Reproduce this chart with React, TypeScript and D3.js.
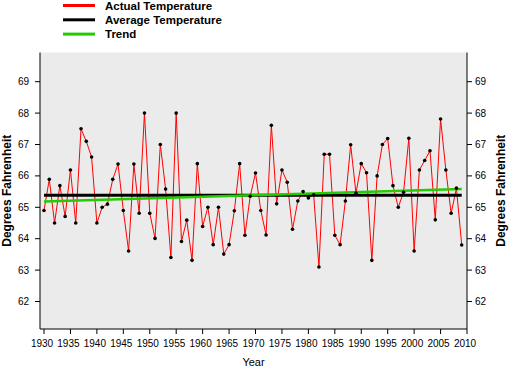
import React from 'react';
import * as d3 from 'd3';

const width = 510;
const height = 367;

// yearly mean temperature, 1930 - 2009 (deg F)
const firstYear = 1930;
const temps = [
  64.9, 65.89, 64.5, 65.69, 64.71, 66.19, 64.5, 67.5, 67.1, 66.6,
  64.5, 65.0, 65.1, 65.89, 66.38, 64.9, 63.61, 66.38, 64.81, 68.0,
  64.81, 64.01, 67.0, 65.58, 63.4, 68.0, 63.91, 64.59, 63.31, 66.39,
  64.39, 65.0, 63.81, 65.0, 63.51, 63.81, 64.89, 66.39, 64.11, 65.35,
  66.09, 64.9, 64.12, 67.61, 65.11, 66.19, 65.8, 64.3, 65.2, 65.5,
  65.3, 65.4, 63.1, 66.69, 66.69, 64.11, 63.81, 65.2, 66.99, 65.45,
  66.39, 66.1, 63.31, 66.0, 67.0, 67.19, 65.69, 65.0, 65.48, 67.2,
  63.61, 66.19, 66.49, 66.8, 64.6, 67.81, 66.19, 64.81, 65.61, 63.8,
];
const years = temps.map((_, i) => firstYear + i);

const averageTemp = 65.38;
const trendYears = [1930, 2009];
const trendTemps = [65.185, 65.58];

const xTicks = [1930, 1935, 1940, 1945, 1950, 1955, 1960, 1965, 1970, 1975, 1980, 1985, 1990, 1995, 2000, 2005, 2010];
const yTicks = [62, 63, 64, 65, 66, 67, 68, 69];

const legendItems = [
  { label: 'Actual Temperature', color: '#ff0000' },
  { label: 'Average Temperature', color: '#000000' },
  { label: 'Trend', color: '#22cc00' },
];

const plotLeft = 40;
const plotRight = 467;
const plotTop = 52.5;
const plotBottom = 329;

const x = d3.scaleLinear().domain([1930, 2010]).range([44, 467]);
const y = d3.scaleLinear().domain([62, 69]).range([301.5, 81.7]);

const font = '"Liberation Sans", Arial, Helvetica, sans-serif';

const App = () => {
  const line = d3
    .line<number>()
    .x((d, i) => x(years[i]))
    .y(d => y(d));

  const trendLine = d3
    .line<number>()
    .x((d, i) => x(trendYears[i]))
    .y(d => y(d));

  const midY = (plotTop + plotBottom) / 2;

  return (
    <svg
      width={width}
      height={height}
      style={{ position: 'absolute', left: 0, top: 0, background: '#fff' }}
      fontFamily={font}
    >
      {/* legend */}
      {legendItems.map((item, i) => (
        <g key={item.label} transform={`translate(0, ${5.5 + i * 14.3})`}>
          <line x1={63} x2={95} y1={0} y2={0} stroke={item.color} strokeWidth={3} />
          <text x={105} y={0} dy="0.35em" fontSize={11.5} fontWeight="bold">
            {item.label}
          </text>
        </g>
      ))}

      {/* plot panel */}
      <rect
        x={plotLeft}
        y={plotTop}
        width={plotRight - plotLeft}
        height={plotBottom - plotTop}
        fill="#ebebeb"
      />
      <path
        d={`M${plotLeft},${plotTop}V${plotBottom}H${plotRight}V${plotTop}`}
        fill="none"
        stroke="#000"
        strokeWidth={1}
      />

      {/* actual temperatures */}
      <path d={line(temps) ?? ''} fill="none" stroke="#ff0000" strokeWidth={1} />

      {/* average */}
      <line
        x1={x(years[0])}
        x2={x(years[years.length - 1])}
        y1={y(averageTemp)}
        y2={y(averageTemp)}
        stroke="#000"
        strokeWidth={3}
      />
      {/* trend */}
      <path d={trendLine(trendTemps) ?? ''} fill="none" stroke="#22cc00" strokeWidth={2.5} />

      {temps.map((t, i) => (
        <circle key={years[i]} cx={x(years[i])} cy={y(t)} r={1.8} fill="#000" />
      ))}

      {/* x axis */}
      {xTicks.map(t => (
        <g key={t}>
          <line x1={x(t)} x2={x(t)} y1={plotBottom} y2={plotBottom + 5} stroke="#000" />
          <text x={x(t) - 2} y={343.5} dy="0.35em" fontSize={10} textAnchor="middle">
            {t}
          </text>
        </g>
      ))}
      <text x={253.5} y={362} dy="0.35em" fontSize={11} textAnchor="middle">
        Year
      </text>

      {/* y axes */}
      {yTicks.map(t => (
        <g key={t}>
          <line x1={plotLeft - 5} x2={plotLeft} y1={y(t)} y2={y(t)} stroke="#000" />
          <text x={29} y={y(t)} dy="0.35em" fontSize={10} textAnchor="end">
            {t}
          </text>
          <line x1={plotRight} x2={plotRight + 5} y1={y(t)} y2={y(t)} stroke="#000" />
          <text x={475} y={y(t)} dy="0.35em" fontSize={10} textAnchor="start">
            {t}
          </text>
        </g>
      ))}
      <text
        transform={`translate(11, ${midY}) rotate(-90)`}
        fontSize={12}
        fontWeight="bold"
        textAnchor="middle"
      >
        Degrees Fahrenheit
      </text>
      <text
        transform={`translate(505, ${midY}) rotate(-90)`}
        fontSize={12}
        fontWeight="bold"
        textAnchor="middle"
      >
        Degrees Fahrenheit
      </text>
    </svg>
  );
};

export default App;
